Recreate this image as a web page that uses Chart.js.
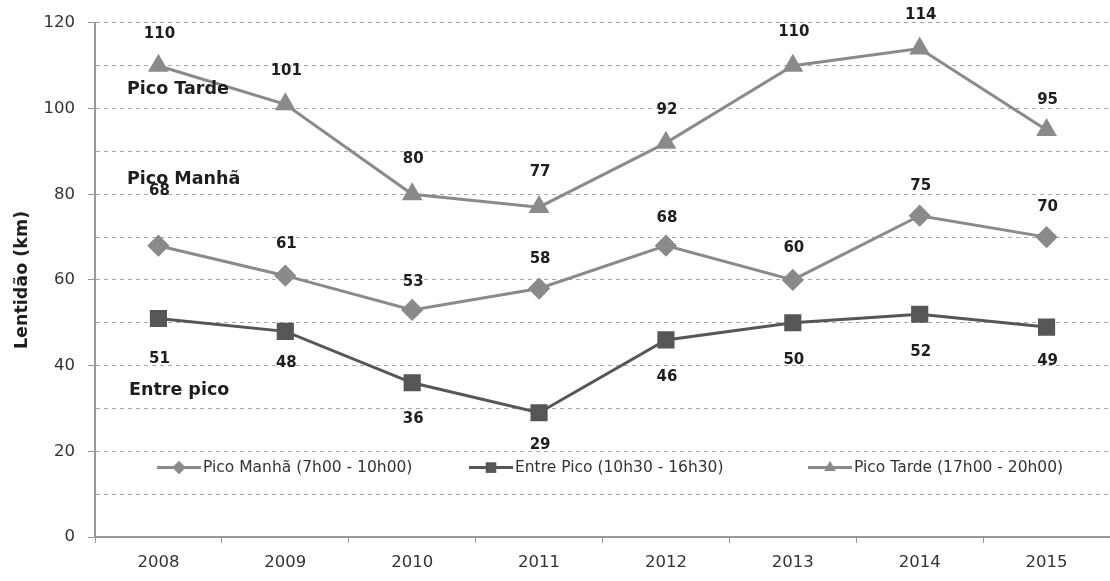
<!DOCTYPE html>
<html>
<head>
<meta charset="utf-8">
<script src="https://cdn.jsdelivr.net/npm/chart.js@4.4.0/dist/chart.umd.min.js"></script>
<style>
  html, body { margin: 0; padding: 0; background: #fff; }
  #wrap { width: 1110px; height: 581px; }
</style>
</head>
<body>
<div id="wrap"><canvas id="graficoLentidao" width="1110" height="581"></canvas></div>
<script>
// anos e lentidão média (km) por período
const anos = ['2008', '2009', '2010', '2011', '2012', '2013', '2014', '2015'];
const picoManha = [68, 61, 53, 58, 68, 60, 75, 70];
const entrePico = [51, 48, 36, 29, 46, 50, 52, 49];
const picoTarde = [110, 101, 80, 77, 92, 110, 114, 95];
const nomesSeries = ['Pico Manhã (7h00 - 10h00)', 'Entre Pico (10h30 - 16h30)', 'Pico Tarde (17h00 - 20h00)'];

const CINZA_CLARO = '#8a8a8a';
const CINZA_ESCURO = '#565656';
const TEXTO = '#1e1e1e';
const FONTE = '"DejaVu Sans", sans-serif';

// deslocamento vertical dos rótulos de valor (px)
const deslocRotulos = [
  [-55, -32, -28, -29, -28, -32, -30, -30],
  [41, 32, 36, 32, 37, 37, 38, 34],
  [-32, -33, -35, -35, -33, -34, -33, -30]
];

const rotulosPlugin = {
  id: 'rotulos',
  afterDatasetsDraw(chart) {
    const ctx = chart.ctx;
    ctx.save();
    ctx.font = 'bold 15px ' + FONTE;
    ctx.fillStyle = TEXTO;
    ctx.textAlign = 'center';
    ctx.textBaseline = 'middle';
    chart.data.datasets.forEach((ds, i) => {
      chart.getDatasetMeta(i).data.forEach((pt, j) => {
        ctx.fillText(String(ds.data[j]), pt.x + 1, pt.y + deslocRotulos[i][j]);
      });
    });
    ctx.restore();
  }
};

// nomes das faixas escritos à esquerda e legenda dentro da área do gráfico
const anotacoesPlugin = {
  id: 'anotacoes',
  afterDraw(chart) {
    const ctx = chart.ctx;
    const y = chart.scales.y;
    ctx.save();
    ctx.font = 'bold 17.5px ' + FONTE;
    ctx.fillStyle = TEXTO;
    ctx.textBaseline = 'middle';
    ctx.fillText('Pico Tarde', 127, y.getPixelForValue(104.5));
    ctx.fillText('Pico Manhã', 127, y.getPixelForValue(83.5));
    ctx.fillText('Entre pico', 129, y.getPixelForValue(34.3));

    const legendaY = y.getPixelForValue(16.2);
    const inicios = [157, 469, 808];
    ctx.font = '15.5px ' + FONTE;
    chart.data.datasets.forEach((ds, i) => {
      const x0 = inicios[i];
      ctx.strokeStyle = ds.borderColor;
      ctx.lineWidth = 3;
      ctx.beginPath();
      ctx.moveTo(x0, legendaY);
      ctx.lineTo(x0 + 44, legendaY);
      ctx.stroke();
      ctx.fillStyle = ds.pointBackgroundColor;
      Chart.helpers.drawPoint(ctx, {
        pointStyle: ds.pointStyle,
        radius: ds.pointRadius * 0.75,
        rotation: 0,
        borderWidth: 0
      }, x0 + 22, legendaY);
      ctx.fillStyle = '#333';
      ctx.fillText(nomesSeries[i], x0 + 46, legendaY);
    });
    ctx.restore();
  }
};

new Chart(document.getElementById('graficoLentidao'), {
  type: 'line',
  data: {
    labels: anos,
    datasets: [
      {
        label: nomesSeries[0],
        data: picoManha,
        borderColor: CINZA_CLARO,
        backgroundColor: CINZA_CLARO,
        pointBackgroundColor: CINZA_CLARO,
        pointBorderColor: CINZA_CLARO,
        pointStyle: 'rectRot',
        pointRadius: 9,
        borderWidth: 3
      },
      {
        label: nomesSeries[1],
        data: entrePico,
        borderColor: CINZA_ESCURO,
        backgroundColor: CINZA_ESCURO,
        pointBackgroundColor: CINZA_ESCURO,
        pointBorderColor: CINZA_ESCURO,
        pointStyle: 'rect',
        pointRadius: 10,
        borderWidth: 3
      },
      {
        label: nomesSeries[2],
        data: picoTarde,
        borderColor: CINZA_CLARO,
        backgroundColor: CINZA_CLARO,
        pointBackgroundColor: CINZA_CLARO,
        pointBorderColor: CINZA_CLARO,
        pointStyle: 'triangle',
        pointRadius: 9,
        borderWidth: 3
      }
    ]
  },
  options: {
    responsive: false,
    animation: false,
    layout: { autoPadding: false, padding: { top: 19, right: 0, bottom: 0, left: 0 } },
    elements: { line: { tension: 0 }, point: { borderWidth: 1 } },
    plugins: {
      legend: { display: false },
      tooltip: { enabled: false }
    },
    scales: {
      x: {
        offset: true,
        afterFit(scale) { scale.height = 44; },
        grid: {
          offset: true,
          drawOnChartArea: false,
          drawTicks: true,
          tickLength: 6,
          tickColor: '#999'
        },
        border: { color: '#999', width: 2 },
        ticks: {
          color: '#333',
          font: { family: FONTE, size: 16.5 },
          padding: 10,
          maxRotation: 0
        }
      },
      y: {
        min: 0,
        max: 120,
        afterFit(scale) { scale.width = 95; },
        title: {
          display: true,
          text: 'Lentidão (km)',
          color: TEXTO,
          font: { family: FONTE, size: 17.5, weight: 'bold' },
          padding: { top: 12, bottom: 0 }
        },
        grid: {
          color: '#a8a8a8',
          lineWidth: 1,
          tickLength: 7,
          tickColor: ctx => (ctx.tick && ctx.tick.value % 20 === 0) ? '#999' : 'rgba(0,0,0,0)'
        },
        border: { color: '#999', width: 2, dash: [4, 4] },
        ticks: {
          stepSize: 10,
          color: '#333',
          font: { family: FONTE, size: 16.5 },
          padding: 13,
          callback: v => (v % 20 === 0 ? v : '')
        }
      }
    }
  },
  plugins: [rotulosPlugin, anotacoesPlugin]
});
</script>
</body>
</html>
